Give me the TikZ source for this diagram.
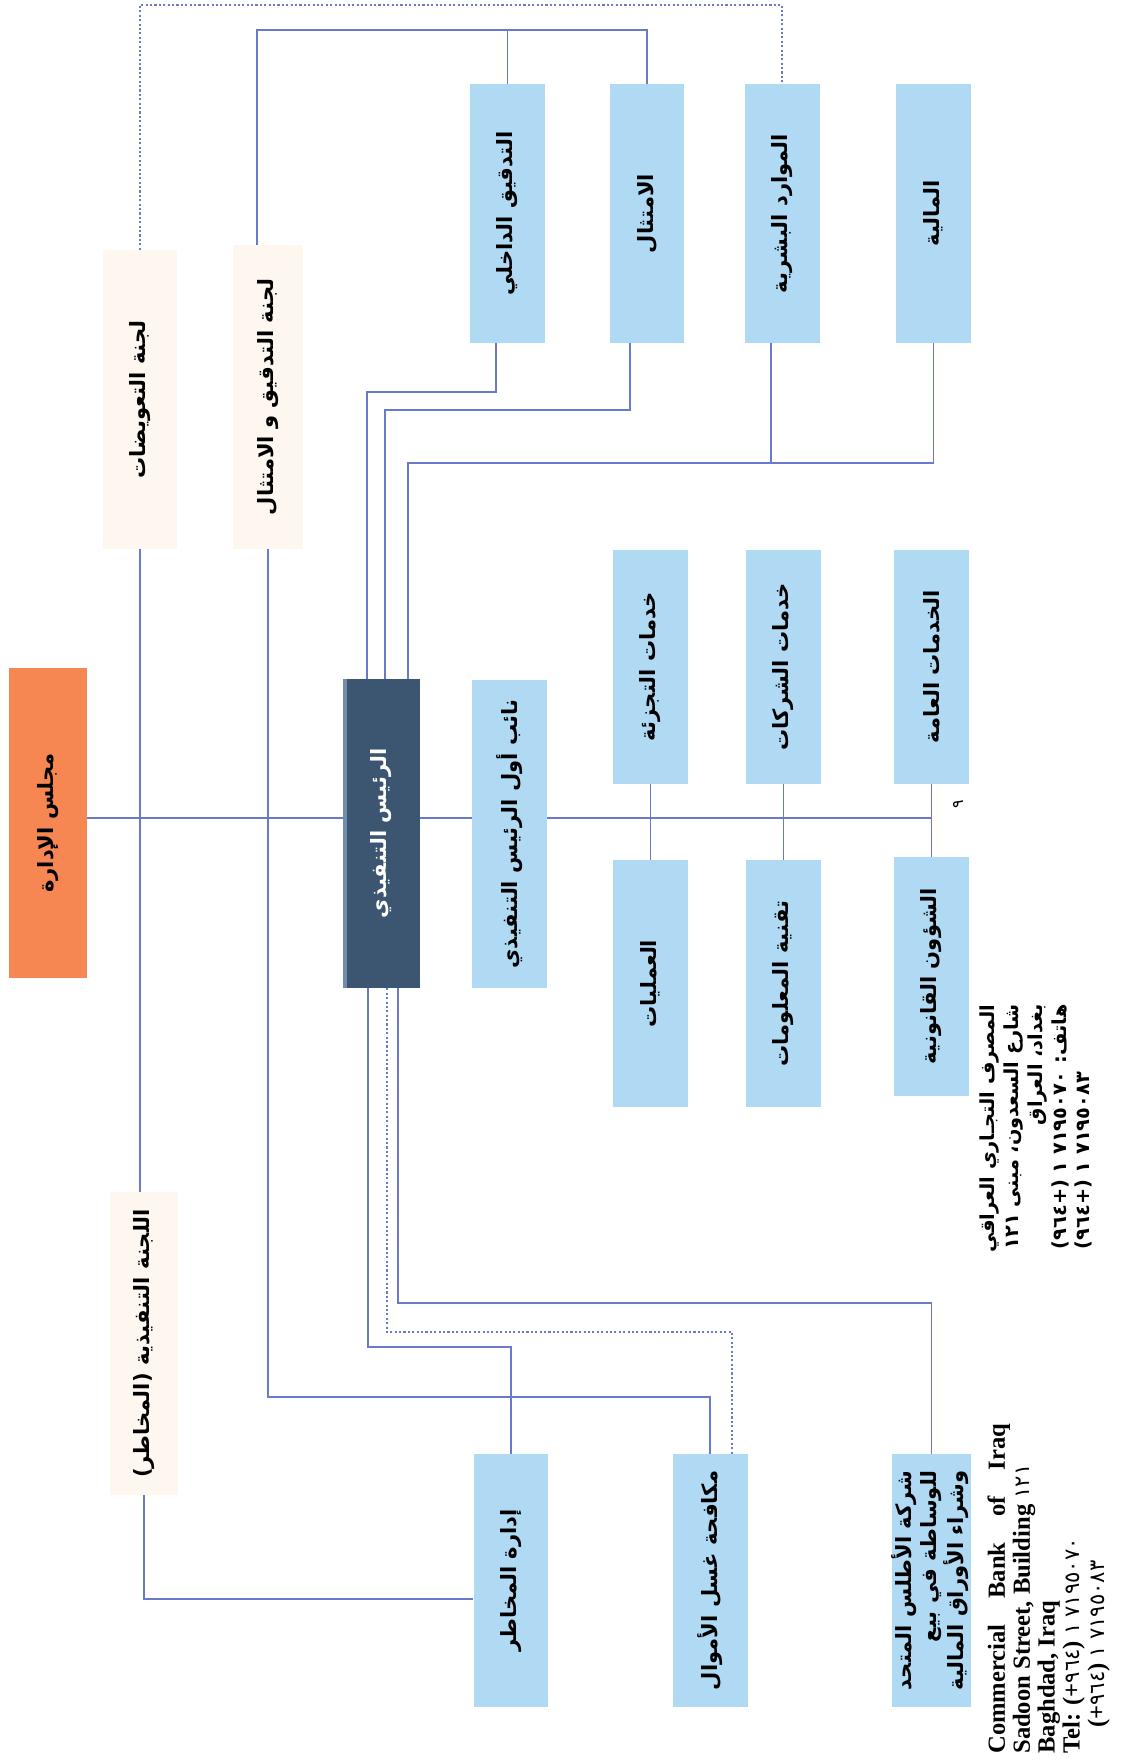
\documentclass[tikz,border=0pt]{standalone}
\usepackage{fontspec}
\setmainfont{Liberation Serif}
\newfontfamily\arabicfont[Script=Arabic]{DejaVu Sans}
\TeXXeTstate=1
\usetikzlibrary{calc}
\definecolor{unitblue}{RGB}{176,218,244}
\definecolor{boardorange}{RGB}{246,134,82}
\definecolor{ceoblue}{RGB}{60,86,114}
\definecolor{ceoedge}{RGB}{112,142,172}
\definecolor{commcream}{RGB}{253,247,240}
\definecolor{linkblue}{RGB}{105,122,205}
\newcommand{\rotar}[1]{\rotatebox{90}{\beginR #1\endR}}
\newcommand{\ardig}[1]{{\arabicfont\mdseries\fontsize{12}{14}\selectfont #1}}
\tikzstyle{unit}=[rectangle, inner sep=0pt, fill=unitblue, minimum width=1.5cm,
                  font=\arabicfont\bfseries\fontsize{12}{14}\selectfont]
\tikzstyle{board}=[unit, fill=boardorange, minimum width=1.56cm]
\tikzstyle{ceo}=[unit, fill=ceoblue, text=white, minimum width=1.54cm,
                 path picture={\fill[ceoedge] (path picture bounding box.south west)
                 rectangle ([xshift=2.5pt]path picture bounding box.north west);}]
\tikzstyle{comm}=[unit, fill=commcream]
\tikzstyle{link}=[draw=linkblue, line width=0.8pt]
\tikzstyle{linkdot}=[link, dash pattern=on 1.2pt off 1.3pt]

\begin{document}
\begin{tikzpicture}[x=0.02cm, y=-0.02cm]
    \fill[white] (0,0) rectangle (1140,1762);
    \useasboundingbox (0,0) rectangle (1140,1762);
    % board, committees, ceo
    \node[board, minimum height=6.2cm] (board) at (48,823) {\rotar{مجلس الإدارة}};
    \node[comm, minimum width=1.48cm, minimum height=5.98cm] (comp) at (140,399.5) {\rotar{لجنة التعويضات}};
    \node[comm, minimum width=1.4cm, minimum height=6.08cm] (auditc) at (268,397) {\rotar{لجنة التدقيق و الامتثال}};
    \node[comm, minimum width=1.36cm, minimum height=6.06cm] (execc) at (144,1343.5) {\rotar{اللجنة التنفيذية (المخاطر)}};
    \node[ceo, minimum height=6.18cm] (ceo) at (381.5,833.5) {\rotar{الرئيس التنفيذي}};
    \node[unit, minimum height=6.16cm] (deputy) at (509.5,834) {\rotar{نائب أول الرئيس التنفيذي}};
    % top row
    \node[unit, minimum height=5.18cm] (intaudit) at (507.5,213.5) {\rotar{التدقيق الداخلي}};
    \node[unit, minimum height=5.18cm] (compliance) at (647,213.5) {\rotar{الامتثال}};
    \node[unit, minimum height=5.18cm] (hr) at (782,213.5) {\rotar{الموارد البشرية}};
    \node[unit, minimum height=5.18cm] (finance) at (933.5,213.5) {\rotar{المالية}};
    % middle rows
    \node[unit, minimum height=4.68cm] (retail) at (650.5,667) {\rotar{خدمات التجزئة}};
    \node[unit, minimum height=4.68cm] (corporate) at (783.5,667) {\rotar{خدمات الشركات}};
    \node[unit, minimum height=4.68cm] (general) at (931.5,667) {\rotar{الخدمات العامة}};
    \node[unit, minimum height=4.94cm] (ops) at (650.5,983.5) {\rotar{العمليات}};
    \node[unit, minimum height=4.94cm] (it) at (783.5,983.5) {\rotar{تقنية المعلومات}};
    \node[unit, minimum height=4.78cm] (legal) at (931.5,976.5) {\rotar{الشؤون القانونية}};
    % bottom row
    \node[unit, minimum height=5.06cm] (risk) at (511,1580.5) {\rotar{إدارة المخاطر}};
    \node[unit, minimum height=5.06cm] (aml) at (710,1580.5) {\rotar{مكافحة غسل الأموال}};
    \node[unit, minimum height=5.06cm] (atlas) at (931.5,1580.5) {\rotatebox{90}{\begin{tabular}{@{}r@{}}
        \beginR شركة الأطلس المتحد\endR\\ \beginR للوساطة في بيع\endR\\ \beginR وشراء الأوراق المالية\endR\end{tabular}}};
    % address and page number
    \node[font=\arabicfont\bfseries\fontsize{11}{13.5}\selectfont, inner sep=0pt, anchor=north west] (addrar) at (978,1004)
      {\rotatebox{90}{\begin{tabular}{@{}r@{}}
        \beginR المصرف التجـاري العراقي\endR\\
        \beginR شارع السعدون، مبنى ١٢١\endR\\
        \beginR بغداد، العراق\endR\\
        \beginR هاتف: \beginL(+٩٦٤) ١ ٧١٩٥٠٧٠\endL\endR\\
        \beginR\hphantom{هاتف: }\beginL(+٩٦٤) ١ ٧١٩٥٠٨٣\endL\endR
      \end{tabular}}};
    \node[font=\bfseries\fontsize{14}{14.2}\selectfont, inner sep=0pt, anchor=south west] (addren) at (987,1754)
      {\rotatebox{90}{\begin{tabular}{@{}p{6.6cm}@{}}
        \makebox[\linewidth][s]{Commercial Bank of Iraq}\\
        Sadoon Street, Building \ardig{١٢١}\\
        Baghdad, Iraq\\
        Tel: (+\ardig{٩٦٤}) \ardig{١} \ardig{٧١٩٥٠٧٠}\\
        \hspace*{1.05em}(+\ardig{٩٦٤}) \ardig{١} \ardig{٧١٩٥٠٨٣}
      \end{tabular}}};
    \node[font=\arabicfont\fontsize{9}{9}\selectfont, inner sep=0pt] (pagenum) at (958,804) {\rotatebox{90}{٩}};
    % levels of the elbow lines
    \coordinate (spine) at (0,818);
    \coordinate (topdot) at (0,5);
    \coordinate (topsolid) at (0,30);
    \coordinate (lvlA) at (0,392);
    \coordinate (lvlB) at (0,410);
    \coordinate (lvlC) at (0,463);
    \coordinate (lvlD) at (0,1303);
    \coordinate (lvlE) at (0,1332);
    \coordinate (lvlF) at (0,1347);
    \coordinate (lvlG) at (0,1397);
    \coordinate (lvlH) at (0,1599);
    \coordinate (ceoN1) at ([xshift=-0.29cm]ceo.north);
    \coordinate (ceoN2) at ([xshift=0.07cm]ceo.north);
    \coordinate (ceoN3) at ([xshift=0.53cm]ceo.north);
    \coordinate (ceoS1) at ([xshift=-0.27cm]ceo.south);
    \coordinate (ceoS2) at ([xshift=0.11cm]ceo.south);
    \coordinate (ceoS3) at ([xshift=0.33cm]ceo.south);
    \coordinate (amlN2) at ([xshift=0.44cm]aml.north);
    % spine
    \draw[link] (board.east |- spine) -- (ceo.west |- spine);
    \draw[link] (ceo.east |- spine) -- (deputy.west |- spine);
    \draw[link] (deputy.east |- spine) -- (general.south |- spine);
    \foreach \to/\from in {retail/ops, corporate/it, general/legal}
      \draw[link] (\to) -- (\from);
    \draw[link] (comp.south) -- (comp.south |- execc.north);
    % committees above
    \draw[linkdot] (comp.north) -- (comp.north |- topdot) -- (hr.north |- topdot) -- (hr.north);
    \draw[link] ([xshift=-0.22cm]auditc.north) |- (compliance.north |- topsolid) -- (compliance.north);
    \draw[link] (intaudit.north |- topsolid) -- (intaudit.north);
    % top row to ceo
    \draw[link] ([xshift=-0.23cm]intaudit.south) |- (ceoN1 |- lvlA) -- (ceoN1);
    \draw[link] ([xshift=-0.34cm]compliance.south) |- (ceoN2 |- lvlB) -- (ceoN2);
    \draw[link] ([xshift=-0.22cm]hr.south) -- ([xshift=-0.22cm]hr.south |- lvlC);
    \draw[link] (finance.south) |- (ceoN3 |- lvlC) -- (ceoN3);
    % ceo and committees to bottom row
    \draw[link] (ceoS3) |- (atlas.north |- lvlD) -- (atlas.north);
    \draw[linkdot] (ceoS2) |- (amlN2 |- lvlE) -- (amlN2);
    \draw[link] (ceoS1) |- (risk.north |- lvlF) -- (risk.north);
    \draw[link] (auditc.south) |- (aml.north |- lvlG) -- (aml.north);
    \draw[link] (execc.south) |- (risk.west |- lvlH);
\end{tikzpicture}
\end{document}
